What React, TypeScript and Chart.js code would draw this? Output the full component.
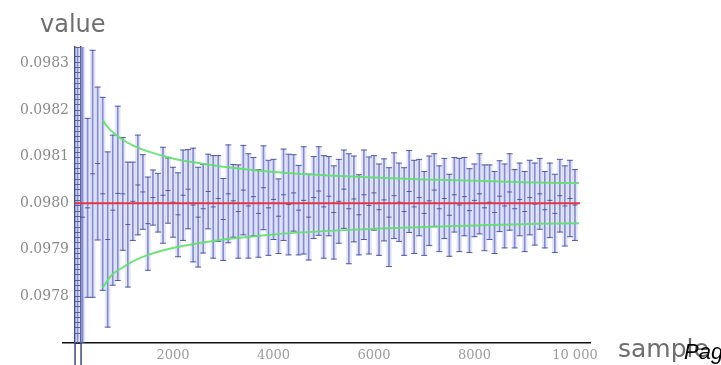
import React, { useEffect, useRef } from "react";
import { Chart, registerables } from "chart.js";

Chart.register(...registerables);

// sample sizes (x)
const samples = [
  100, 200, 300, 400, 500, 600, 700, 800, 900, 1000,
  1100, 1200, 1300, 1400, 1500, 1600, 1700, 1800, 1900, 2000,
  2100, 2200, 2300, 2400, 2500, 2600, 2700, 2800, 2900, 3000,
  3100, 3200, 3300, 3400, 3500, 3600, 3700, 3800, 3900, 4000,
  4100, 4200, 4300, 4400, 4500, 4600, 4700, 4800, 4900, 5000,
  5100, 5200, 5300, 5400, 5500, 5600, 5700, 5800, 5900, 6000,
  6100, 6200, 6300, 6400, 6500, 6600, 6700, 6800, 6900, 7000,
  7100, 7200, 7300, 7400, 7500, 7600, 7700, 7800, 7900, 8000,
  8100, 8200, 8300, 8400, 8500, 8600, 8700, 8800, 8900, 9000,
  9100, 9200, 9300, 9400, 9500, 9600, 9700, 9800, 9900, 10000,
];

// estimated value at each sample size
const means = [
  0.098000, 0.097970, 0.097990, 0.098063, 0.098085, 0.098020, 0.097922, 0.097985, 0.098021, 0.098020,
  0.097954, 0.098004, 0.098039, 0.098024, 0.097956, 0.098012, 0.098001, 0.098017, 0.098027, 0.098002,
  0.097975, 0.098017, 0.098030, 0.097996, 0.097970, 0.097988, 0.098025, 0.097992, 0.098010, 0.097965,
  0.098020, 0.098005, 0.097982, 0.098028, 0.097994, 0.098014, 0.097978, 0.098033, 0.097990, 0.098008,
  0.097972, 0.098018, 0.097997, 0.098022, 0.097985, 0.098006, 0.097970, 0.098012, 0.098026, 0.097992,
  0.098015, 0.097980, 0.098004, 0.098030, 0.097988, 0.098009, 0.097975, 0.098018, 0.097995, 0.098022,
  0.097986, 0.098007, 0.097970, 0.098016, 0.098002, 0.097982, 0.098025, 0.097992, 0.098012, 0.097978,
  0.098005, 0.098028, 0.097988, 0.098010, 0.097974, 0.098018, 0.097996, 0.098014, 0.097984, 0.098006,
  0.098020, 0.097990, 0.098002, 0.097980, 0.098015, 0.097994, 0.098024, 0.097988, 0.098008, 0.097982,
  0.098012, 0.097998, 0.098020, 0.097986, 0.098006, 0.097978, 0.098016, 0.097994, 0.098010, 0.097996,
];

// half-width of each error bar
const errors = [
  0.000700, 0.000450, 0.000192, 0.000265, 0.000164, 0.000207, 0.000188, 0.000161, 0.000187, 0.000121,
  0.000134, 0.000084, 0.000107, 0.000080, 0.000100, 0.000059, 0.000063, 0.000103, 0.000070, 0.000075,
  0.000090, 0.000097, 0.000085, 0.000122, 0.000107, 0.000095, 0.000080, 0.000110, 0.000092, 0.000088,
  0.000105, 0.000078, 0.000100, 0.000096, 0.000112, 0.000084, 0.000094, 0.000090, 0.000102, 0.000086,
  0.000080, 0.000098, 0.000108, 0.000082, 0.000096, 0.000115, 0.000092, 0.000088, 0.000095, 0.000110,
  0.000085, 0.000100, 0.000090, 0.000084, 0.000118, 0.000092, 0.000086, 0.000096, 0.000104, 0.000080,
  0.000098, 0.000088, 0.000106, 0.000092, 0.000084, 0.000094, 0.000088, 0.000100, 0.000082, 0.000090,
  0.000096, 0.000078, 0.000092, 0.000086, 0.000088, 0.000080, 0.000100, 0.000084, 0.000090, 0.000078,
  0.000086, 0.000092, 0.000080, 0.000088, 0.000076, 0.000090, 0.000082, 0.000084, 0.000078, 0.000086,
  0.000080, 0.000088, 0.000076, 0.000082, 0.000080, 0.000084, 0.000078, 0.000086, 0.000082, 0.000076,
];

// reference value (red line)
const trueValue = 0.098;
const refLineX = [50, 10100];

// confidence envelope (green curves)
const bandX = [600, 700, 800, 1000, 1200, 1500, 2000, 2500, 3000, 4000, 5000, 6000, 7000, 8000, 9000, 10000, 10080];
const bandUpper = [0.098178, 0.098163, 0.098152, 0.098136, 0.098124, 0.098111, 0.098096, 0.098086, 0.098078, 0.098067, 0.098060, 0.098055, 0.098051, 0.098048, 0.098045, 0.098043, 0.098043];
const bandLower = [0.097818, 0.097835, 0.097848, 0.097862, 0.097875, 0.097889, 0.097904, 0.097914, 0.097922, 0.097933, 0.097940, 0.097945, 0.097949, 0.097952, 0.097955, 0.097957, 0.097957];

// axes
const yTickValues = [0.0978, 0.0979, 0.098, 0.0981, 0.0982, 0.0983];
const xTickValues = [2000, 4000, 6000, 8000, 10000];
const xTickLabels = ["2000", "4000", "6000", "8000", "10 000"];
const xMin = -190;
const xMax = 10300;
const yMin = 0.0977;
const yMax = 0.098335;
const railX = [50, 170];
const railBottom = 0.09765;

export default function App() {
  const canvasRef = useRef<HTMLCanvasElement | null>(null);

  useEffect(() => {
    const canvas = canvasRef.current;
    if (!canvas) return;

    const barRange = samples.map((n, i) => ({ x: n, y: [means[i] - errors[i], means[i] + errors[i]] }));
    const lows = samples.map((n, i) => ({ x: n, y: means[i] - errors[i] }));
    const highs = samples.map((n, i) => ({ x: n, y: means[i] + errors[i] }));
    const centers = samples.map((n, i) => ({ x: n, y: means[i] }));

    const capStyle = {
      type: "line" as const,
      showLine: false,
      pointStyle: "line" as const,
      pointRadius: 3,
      pointBorderWidth: 1,
      pointBorderColor: "rgba(60,70,150,0.85)",
      pointBackgroundColor: "rgba(60,70,150,0.85)",
    };

    const railSets = railX.map((x) => ({
      type: "line" as const,
      data: [{ x, y: yMin }, { x, y: railBottom }],
      borderColor: "#3c4a80",
      borderWidth: 1.5,
      pointRadius: 0,
      clip: false as any,
      order: 0,
    }));

    const chart = new Chart(canvas, {
      type: "bar",
      data: {
        datasets: [
          ...railSets,
          {
            type: "line",
            data: refLineX.map((x) => ({ x, y: trueValue })),
            borderColor: "#e8343c",
            borderWidth: 2,
            pointRadius: 0,
            order: 0,
          },
          {
            type: "line",
            data: bandX.map((x, i) => ({ x, y: bandUpper[i] })),
            borderColor: "rgba(95,225,105,0.9)",
            borderWidth: 2,
            pointRadius: 0,
            cubicInterpolationMode: "monotone",
            order: 1,
          },
          {
            type: "line",
            data: bandX.map((x, i) => ({ x, y: bandLower[i] })),
            borderColor: "rgba(95,225,105,0.9)",
            borderWidth: 2,
            pointRadius: 0,
            cubicInterpolationMode: "monotone",
            order: 1,
          },
          { ...capStyle, data: centers, pointRadius: 2.5, order: 2 },
          { ...capStyle, data: lows, order: 2 },
          { ...capStyle, data: highs, order: 2 },
          {
            type: "bar",
            data: barRange as any,
            barThickness: 1,
            backgroundColor: "rgba(90,100,195,0.7)",
            borderWidth: 0,
            grouped: false,
            order: 3,
          },
          {
            type: "bar",
            data: barRange as any,
            barThickness: 5,
            backgroundColor: "rgba(150,160,228,0.26)",
            borderWidth: 0,
            grouped: false,
            order: 4,
          },
        ],
      },
      options: {
        animation: false,
        responsive: false,
        devicePixelRatio: 1,
        events: [],
        layout: { padding: { top: 47, right: 131, left: 0, bottom: 0 } },
        plugins: { legend: { display: false }, tooltip: { enabled: false } },
        scales: {
          x: {
            type: "linear",
            min: xMin,
            max: xMax,
            offset: false,
            afterBuildTicks: (s: any) => {
              s.ticks = xTickValues.map((v) => ({ value: v }));
            },
            afterFit: (s: any) => {
              s.height = 22;
            },
            grid: { display: true, drawOnChartArea: false, drawTicks: false },
            border: { display: true, color: "#111111", width: 1.5 },
            ticks: {
              autoSkip: false,
              maxRotation: 0,
              padding: 5,
              color: "#9c9c9c",
              font: { family: "'DejaVu Serif', serif", size: 13 },
              callback: (_v: any, i: number) => xTickLabels[i],
            },
          },
          y: {
            type: "linear",
            position: "left",
            min: yMin,
            max: yMax,
            afterBuildTicks: (s: any) => {
              s.ticks = yTickValues.map((v) => ({ value: v }));
            },
            afterFit: (s: any) => {
              s.width = 63;
            },
            grid: { display: false, drawTicks: false },
            border: { display: false },
            ticks: {
              autoSkip: false,
              mirror: true,
              crossAlign: "near",
              padding: -43,
              color: "#8a8a8a",
              font: { family: "'DejaVu Serif', serif", size: 14 },
              callback: (v: any) => Number(v).toFixed(4),
            },
          },
          ladderL: {
            type: "linear",
            axis: "y",
            position: { x: railX[0] } as any,
            min: yMin,
            max: yMax,
            grid: { display: false, drawTicks: false },
            border: { display: true, color: "#3c4a80", width: 1.5 },
            ticks: { display: false },
          },
          ladderR: {
            type: "linear",
            axis: "y",
            position: { x: railX[1] } as any,
            min: yMin,
            max: yMax,
            grid: { display: true, drawOnChartArea: false, drawTicks: true, tickLength: 6, color: "#3c4a80", lineWidth: 1 },
            border: { display: true, color: "#3c4a80", width: 1.5 },
            ticks: { display: false, stepSize: 0.0000114 },
          },
        } as any,
      },
    } as any);

    return () => chart.destroy();
  }, []);

  return (
    <div style={{ position: "fixed", left: 0, top: 0, width: 721, height: 365, background: "#ffffff", overflow: "hidden" }}>
      <canvas ref={canvasRef} width={721} height={365} style={{ position: "absolute", left: 0, top: 0, width: 721, height: 365 }} />
      <span style={{ position: "absolute", left: 40, top: 12, fontFamily: "'DejaVu Sans', sans-serif", fontSize: 24, lineHeight: 1, color: "#6e6e6e", whiteSpace: "nowrap" }}>value</span>
      <span style={{ position: "absolute", left: 618, top: 336, fontFamily: "'DejaVu Sans', sans-serif", fontSize: 25, lineHeight: 1, color: "#6e6e6e", whiteSpace: "nowrap" }}>sample</span>
      <span style={{ position: "absolute", left: 684, top: 341, fontFamily: "'Liberation Sans', Arial, sans-serif", fontStyle: "italic", fontSize: 22, lineHeight: 1, color: "#000000", whiteSpace: "nowrap" }}>Pag</span>
    </div>
  );
}
